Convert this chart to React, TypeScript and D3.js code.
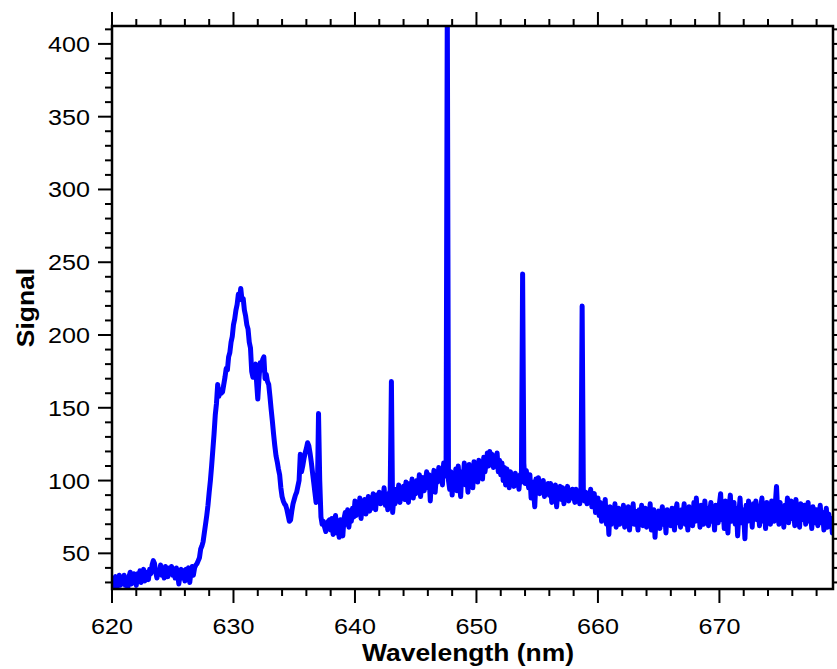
import React from "react";
import * as d3 from "d3";

// Sampling grid of the spectrum (nm)
const WL_START = 620.0;
const WL_STEP = 0.1;

// Signal values, one row per nm (10 samples per row)
const signal: number[] = [
  // 620
  27, 33, 29, 34, 26, 31, 35, 28, 32, 30,
  // 621
  35, 28, 33, 26, 34, 37, 29, 32, 36, 31,
  // 622
  28, 36, 33, 38, 30, 35, 39, 31, 37, 34,
  // 623
  32, 39, 36, 42, 45, 43, 37, 33, 38, 36,
  // 624
  42, 35, 39, 33, 41, 38, 34, 40, 36, 41,
  // 625
  35, 39, 33, 40, 36, 29, 35, 39, 33, 38,
  // 626
  31, 39, 36, 40, 30, 37, 41, 35, 40, 42,
  // 627
  43, 45, 47, 53, 55, 58, 64, 70, 76, 83,
  // 628
  92, 100, 110, 121, 132, 145, 153, 166, 158, 162,
  // 629
  160, 161, 166, 171, 177, 176, 185, 188, 195, 199,
  // 630
  207, 211, 217, 221, 228, 226, 232, 224, 225, 217,
  // 631
  213, 207, 204, 195, 191, 175, 171, 178, 180, 168,
  // 632
  156, 170, 181, 176, 183, 185, 170, 173, 168, 166,
  // 633
  158, 149, 141, 132, 124, 117, 113, 108, 104, 95,
  // 634
  89, 86, 84, 83, 80, 76, 72, 73, 79, 84,
  // 635
  87, 90, 92, 96, 100, 118, 106, 110, 115, 119,
  // 636
  122, 126, 124, 119, 113, 106, 99, 92, 85, 88,
  // 637
  146, 100, 75, 70, 72, 68, 65, 69, 72, 73,
  // 638
  66, 74, 63, 72, 76, 64, 70, 61, 73, 66,
  // 639
  62, 74, 78, 70, 80, 68, 77, 72, 81, 75,
  // 640
  86, 76, 84, 78, 88, 74, 83, 79, 87, 77,
  // 641
  82, 89, 79, 86, 81, 91, 84, 80, 90, 85,
  // 642
  92, 84, 90, 86, 95, 83, 89, 80, 91, 93,
  // 643
  168, 78, 88, 84, 94, 86, 97, 85, 93, 89,
  // 644
  96, 87, 99, 90, 85, 98, 92, 101, 88, 97,
  // 645
  91, 100, 94, 104, 89, 98, 102, 93, 99, 106,
  // 646
  95, 104, 86, 101, 97, 107, 92, 103, 99, 109,
  // 647
  100, 108, 97, 112, 103, 110, 430, 100, 94, 106,
  // 648
  90, 104, 96, 108, 93, 110, 98, 89, 106, 100,
  // 649
  112, 97, 106, 92, 111, 101, 108, 95, 113, 103,
  // 650
  108, 99, 114, 104, 110, 101, 116, 106, 112, 119,
  // 651
  110, 120, 113, 118, 109, 116, 111, 119, 106, 114,
  // 652
  104, 112, 100, 109, 97, 108, 103, 95, 106, 99,
  // 653
  103, 96, 105, 98, 101, 94, 104, 99, 242, 112,
  // 654
  98, 107, 101, 95, 104, 88, 99, 93, 82, 101,
  // 655
  96, 102, 91, 99, 93, 100, 89, 97, 92, 98,
  // 656
  90, 98, 85, 95, 88, 97, 82, 94, 89, 96,
  // 657
  87, 95, 84, 93, 89, 96, 86, 92, 88, 94,
  // 658
  90, 85, 94, 88, 92, 84, 91, 220, 94, 86,
  // 659
  92, 84, 90, 87, 94, 82, 88, 91, 78, 86,
  // 660
  88, 76, 85, 72, 84, 78, 87, 70, 80, 63,
  // 661
  82, 70, 79, 74, 84, 68, 77, 81, 70, 76,
  // 662
  72, 83, 68, 79, 74, 82, 66, 78, 73, 84,
  // 663
  70, 79, 74, 66, 80, 72, 83, 69, 76, 81,
  // 664
  68, 78, 72, 84, 66, 75, 80, 61, 77, 70,
  // 665
  79, 67, 76, 82, 70, 78, 64, 80, 73, 77,
  // 666
  69, 81, 74, 66, 79, 84, 71, 77, 68, 80,
  // 667
  76, 84, 70, 78, 66, 82, 73, 79, 69, 85,
  // 668
  72, 88, 74, 80, 68, 83, 77, 70, 86, 75,
  // 669
  81, 69, 78, 85, 72, 79, 66, 83, 76, 71,
  // 670
  84, 91, 73, 80, 67, 86, 74, 64, 82, 90,
  // 671
  72, 79, 85, 70, 81, 62, 77, 88, 71, 80,
  // 672
  76, 60, 83, 72, 86, 75, 80, 68, 84, 74,
  // 673
  86, 73, 79, 69, 82, 88, 72, 80, 67, 85,
  // 674
  75, 83, 70, 86, 77, 72, 84, 96, 78, 70,
  // 675
  85, 72, 80, 68, 83, 76, 88, 71, 79, 86,
  // 676
  74, 82, 69, 87, 76, 80, 68, 84, 73, 79,
  // 677
  83, 70, 78, 85, 72, 79, 67, 82, 76, 71,
  // 678
  80, 69, 76, 83, 71, 78, 66, 75, 81, 68,
  // 679
  77, 70, 74, 64, 69,
];

const xMajorTicks = [620, 630, 640, 650, 660, 670];
const yMajorTicks = [50, 100, 150, 200, 250, 300, 350, 400];
const X_DOMAIN: [number, number] = [620, 679.35];
const Y_DOMAIN: [number, number] = [25.5, 412.3];
const X_LABEL = "Wavelength (nm)";
const Y_LABEL = "Signal";

const W = 837;
const H = 669;
const M = { left: 112, right: 833, top: 26, bottom: 589 };

export default function App() {
  const x = d3.scaleLinear().domain(X_DOMAIN).range([M.left, M.right]);
  const y = d3.scaleLinear().domain(Y_DOMAIN).range([M.bottom, M.top]);

  const pts: [number, number][] = signal.map((v, i) => [WL_START + i * WL_STEP, v]);
  const line = d3
    .line<[number, number]>()
    .x((d) => x(d[0]))
    .y((d) => y(d[1]));

  const xMinor = d3.range(620, 679.4, 2).filter((v) => !xMajorTicks.includes(v));
  const yMinor = d3.range(30, 412, 10).filter((v) => !yMajorTicks.includes(v));

  const font = "'Liberation Sans', Arial, Helvetica, sans-serif";
  const MAJ = 14;
  const MIN = 7;
  const tickStroke = { stroke: "#000", strokeWidth: 2 };

  return (
    <svg
      width={W}
      height={H}
      style={{ position: "absolute", left: 0, top: 0, background: "#fff" }}
    >
      <defs>
        <clipPath id="plotclip">
          <rect x={M.left} y={M.top} width={M.right - M.left} height={M.bottom - M.top} />
        </clipPath>
      </defs>
      <rect x={0} y={0} width={W} height={H} fill="#fff" />

      <path
        d={line(pts) || ""}
        fill="none"
        stroke="#0000ff"
        strokeWidth={5}
        strokeLinejoin="round"
        strokeLinecap="round"
        clipPath="url(#plotclip)"
      />

      {/* frame */}
      <rect
        x={M.left}
        y={M.top}
        width={M.right - M.left}
        height={M.bottom - M.top}
        fill="none"
        stroke="#000"
        strokeWidth={2.5}
      />

      {/* x ticks bottom & top */}
      {xMajorTicks.map((t) => (
        <g key={"xM" + t}>
          <line x1={x(t)} x2={x(t)} y1={M.bottom} y2={M.bottom + MAJ} {...tickStroke} />
          <line x1={x(t)} x2={x(t)} y1={M.top} y2={M.top - MAJ} {...tickStroke} />
          <text
            transform={`translate(${x(t)},634) scale(1.17,1)`}
            textAnchor="middle"
            fontFamily={font}
            fontSize={21.5}
            fill="#000"
          >
            {t}
          </text>
        </g>
      ))}
      {xMinor.map((t) => (
        <g key={"xm" + t}>
          <line x1={x(t)} x2={x(t)} y1={M.bottom} y2={M.bottom + MIN} {...tickStroke} />
          <line x1={x(t)} x2={x(t)} y1={M.top} y2={M.top - MIN} {...tickStroke} />
        </g>
      ))}

      {/* y ticks left & right */}
      {yMajorTicks.map((t) => (
        <g key={"yM" + t}>
          <line x1={M.left} x2={M.left - MAJ} y1={y(t)} y2={y(t)} {...tickStroke} />
          <line x1={M.right} x2={M.right + MAJ} y1={y(t)} y2={y(t)} {...tickStroke} />
          <text
            transform={`translate(90,${y(t) + 8}) scale(1.17,1)`}
            textAnchor="end"
            fontFamily={font}
            fontSize={21.5}
            fill="#000"
          >
            {t}
          </text>
        </g>
      ))}
      {yMinor.map((t) => (
        <g key={"ym" + t}>
          <line x1={M.left} x2={M.left - MIN} y1={y(t)} y2={y(t)} {...tickStroke} />
          <line x1={M.right} x2={M.right + MIN} y1={y(t)} y2={y(t)} {...tickStroke} />
        </g>
      ))}

      {/* axis labels */}
      <text
        transform={`translate(468,661) scale(1.15,1)`}
        textAnchor="middle"
        fontFamily={font}
        fontWeight="bold"
        fontSize={23}
        fill="#000"
      >
        {X_LABEL}
      </text>
      <text
        transform={`translate(34,${(M.top + M.bottom) / 2}) rotate(-90) scale(1.15,1)`}
        textAnchor="middle"
        fontFamily={font}
        fontWeight="bold"
        fontSize={23}
        fill="#000"
      >
        {Y_LABEL}
      </text>
    </svg>
  );
}
